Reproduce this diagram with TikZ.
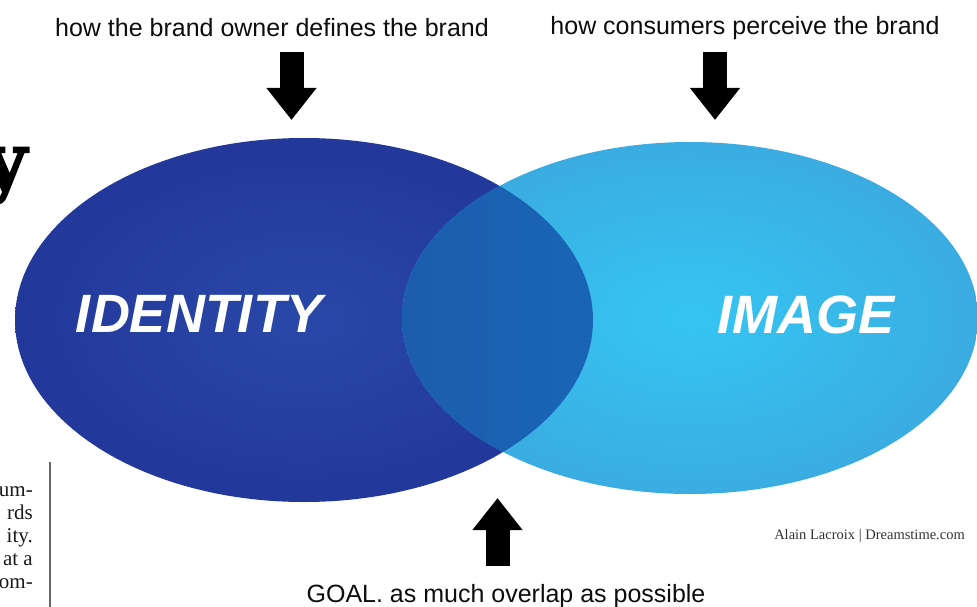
\documentclass[tikz,border=0pt]{standalone}
\usepackage{fontspec}
\setmainfont{Liberation Serif}
\newfontfamily\arial{Liberation Sans}
\newfontfamily\slab[BoldFeatures={FakeBold=2.5}]{DejaVu Serif}
\usetikzlibrary{arrows.meta}

\definecolor{idblue}{HTML}{22389A}
\definecolor{idcore}{HTML}{2948A8}
\definecolor{imblue}{HTML}{3AACE1}
\definecolor{imcore}{HTML}{35C6F3}
\definecolor{lapleft}{HTML}{1C5DAD}
\definecolor{lapright}{HTML}{1276C3}

\begin{document}
\begin{tikzpicture}[x=1pt,y=-1pt,
    bigarrow/.style={line width=24pt,-{Triangle[length=32pt,width=48pt]}},
    caption/.style={font=\arial\fontsize{25}{28}\selectfont,text=black!95,inner sep=0pt,anchor=base},
    bigword/.style={font=\arial\bfseries\itshape\fontsize{54}{60}\selectfont,text=white,inner sep=0pt,anchor=base}]
    \useasboundingbox (0,0) rectangle (977,607);
    \clip (0,0) rectangle (977,607);
    \coordinate (idc) at (304,320);
    \coordinate (imc) at (690,318);
    %% Ellipses
    \shade[inner color=idcore,outer color=idblue] (idc) ellipse [x radius=289,y radius=182];
    \shade[inner color=imcore,outer color=imblue] (imc) ellipse [x radius=288,y radius=176];
    \begin{scope}
        \clip (idc) ellipse [x radius=289,y radius=182];
        \shade[left color=lapleft,right color=lapright] (imc) ellipse [x radius=288,y radius=176];
    \end{scope}
    \node[bigword] (identity) at (199,332) {IDENTITY};
    \node[bigword] (image) at (806,333) {IMAGE};
    %% Captions
    \node[caption] (owner) at (272,37) {how the brand owner defines the brand};
    \node[caption] (consumers) at (745,35) {how consumers perceive the brand};
    \node[caption] (goal) at (506,602) {GOAL. as much overlap as possible};
    %% Arrows
    \coordinate (owner-top) at (291.5,52);
    \coordinate (owner-tip) at (291.5,120);
    \coordinate (cons-top) at (715,52);
    \coordinate (cons-tip) at (715,120);
    \coordinate (goal-foot) at (497.5,566);
    \coordinate (goal-tip) at (497.5,498);
    \draw[bigarrow] (owner-top) -- (owner-tip);
    \draw[bigarrow] (cons-top) -- (cons-tip);
    \draw[bigarrow] (goal-foot) -- (goal-tip);
    %% Page leftovers
    \node[font=\slab\bfseries\fontsize{76}{80}\selectfont,inner sep=0pt,anchor=base east] (head) at (27,187) {y};
    \foreach \w [count=\i] in {um-,rds,ity.,at a,om-}
        \node[font=\fontsize{21}{23}\selectfont,text=black!90,inner sep=0pt,anchor=base east] (col\i) at (33,473+23*\i) {\w};
    \coordinate (rule-top) at (50,462);
    \coordinate (rule-end) at (50,607);
    \draw[black!60,line width=1.5pt] (rule-top) -- (rule-end);
    \node[font=\fontsize{14.5}{16}\selectfont,text=black!80,inner sep=0pt,anchor=base east] (credit) at (965,539) {Alain Lacroix | Dreamstime.com};
\end{tikzpicture}
\end{document}
